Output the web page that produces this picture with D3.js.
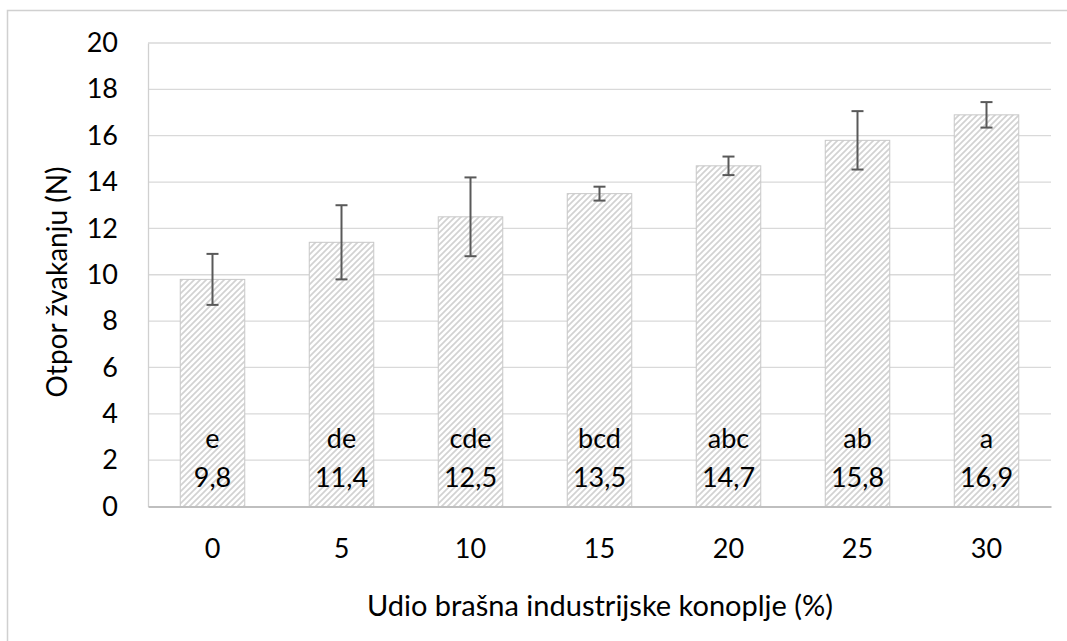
<!DOCTYPE html>
<html><head><meta charset="utf-8">
<script src="https://cdn.jsdelivr.net/npm/d3@7"></script>
<style>body{margin:0;background:#fff;} svg{display:block;font-family:Lato, "Open Sans", sans-serif;}</style>
</head><body>
<svg id="c" width="1067" height="641"></svg>
<script>
const categories = ["0","5","10","15","20","25","30"];
const values = [9.8, 11.4, 12.5, 13.5, 14.7, 15.8, 16.9];
const errors = [1.1, 1.6, 1.7, 0.3, 0.4, 1.26, 0.55];
const letters = ["e","de","cde","bcd","abc","ab","a"];
const yTicks = [0,2,4,6,8,10,12,14,16,18,20];
const xTitle = "Udio brašna industrijske konoplje (%)";
const yTitle = "Otpor žvakanju (N)";

const svg = d3.select("#c");
const m = {left:148, right:1051, top:43, bottom:506.5};
const x = d3.scaleBand().domain(categories).range([m.left, m.right]).paddingInner(0.5).paddingOuter(0.25);
const y = d3.scaleLinear().domain([0,20]).range([m.bottom, m.top]);

// outer border
svg.append("rect").attr("x",7.5).attr("y",10.5).attr("width",1080).attr("height",660)
  .attr("fill","none").attr("stroke","#d0d0d0").attr("stroke-width",1.5);

const defs = svg.append("defs");
const pat = defs.append("pattern").attr("id","hatch").attr("patternUnits","userSpaceOnUse")
  .attr("width",6).attr("height",6);
pat.append("rect").attr("width",6).attr("height",6).attr("fill","#fff");
pat.append("path").attr("d","M-1,1 l2,-2 M0,6 l6,-6 M5,7 l2,-2").attr("stroke","#d2d2d2").attr("stroke-width",1.7);

// gridlines
svg.append("g").selectAll("line").data(yTicks.filter(d=>d>0)).join("line")
  .attr("x1",m.left).attr("x2",m.right).attr("y1",d=>y(d)).attr("y2",d=>y(d))
  .attr("stroke","#d9d9d9").attr("stroke-width",1.3);

// y axis
const yAxis = svg.append("g").attr("transform",`translate(${m.left},0)`)
  .call(d3.axisLeft(y).tickValues(yTicks).tickSize(0).tickPadding(30));
yAxis.select(".domain").attr("stroke","#d0d0d0").attr("stroke-width",1.3);
yAxis.selectAll("text").attr("font-size",27).attr("fill","#000").attr("font-family","Lato");

// bars
svg.append("g").selectAll("rect").data(values).join("rect")
  .attr("x",(d,i)=>x(categories[i])).attr("width",x.bandwidth())
  .attr("y",d=>y(d)).attr("height",d=>y(0)-y(d))
  .attr("fill","url(#hatch)").attr("stroke","#c8c8c8").attr("stroke-width",1);

// x axis
const xAxis = svg.append("g").attr("transform",`translate(0,${m.bottom})`)
  .call(d3.axisBottom(x).tickSize(0).tickPadding(32));
xAxis.select(".domain").attr("stroke","#bfbfbf").attr("stroke-width",2);
xAxis.selectAll("text").attr("font-size",27).attr("fill","#000").attr("font-family","Lato");

// error bars
const eg = svg.append("g").attr("stroke","#595959").attr("stroke-width",2);
values.forEach((v,i)=>{
  const cx = x(categories[i]) + x.bandwidth()/2;
  eg.append("line").attr("x1",cx).attr("x2",cx).attr("y1",y(v+errors[i])).attr("y2",y(v-errors[i]));
  eg.append("line").attr("x1",cx-6).attr("x2",cx+6).attr("y1",y(v+errors[i])).attr("y2",y(v+errors[i]));
  eg.append("line").attr("x1",cx-6).attr("x2",cx+6).attr("y1",y(v-errors[i])).attr("y2",y(v-errors[i]));
});

// data labels
const lg = svg.append("g").attr("font-size",27).attr("text-anchor","middle").attr("fill","#000");
values.forEach((v,i)=>{
  const cx = x(categories[i]) + x.bandwidth()/2;
  lg.append("text").attr("x",cx).attr("y",y(0)-59).text(letters[i]);
  lg.append("text").attr("x",cx).attr("y",y(0)-20).text(d3.format(".1f")(v).replace(".",","));
});

// titles
svg.append("text").attr("x",600).attr("y",616).attr("text-anchor","middle")
  .attr("font-size",29).text(xTitle);
svg.append("text").attr("transform",`translate(67,282) rotate(-90)`)
  .attr("text-anchor","middle").attr("font-size",28).text(yTitle);
</script>
</body></html>
